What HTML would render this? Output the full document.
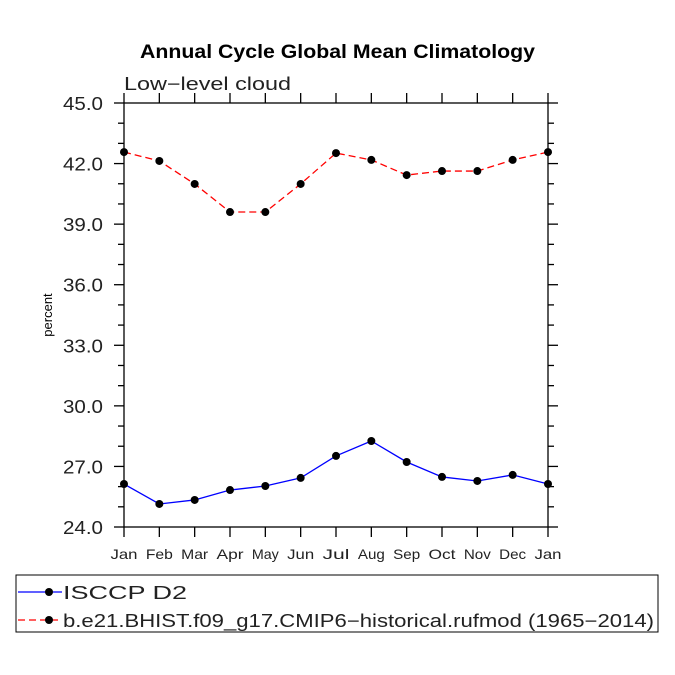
<!DOCTYPE html>
<html><head><meta charset="utf-8"><style>
body{margin:0;background:#fff}
svg{display:block}
text{font-family:"Liberation Sans",sans-serif}
</style></head><body>
<svg id="chart" width="675" height="675" viewBox="0 0 675 675" xmlns="http://www.w3.org/2000/svg">
<text x="140" y="58" textLength="395" lengthAdjust="spacingAndGlyphs" font-size="19" font-weight="bold">Annual Cycle Global Mean Climatology</text>
<text x="124" y="90" font-size="18" fill="#222" textLength="167" lengthAdjust="spacingAndGlyphs">Low−level cloud</text>
<text x="0" y="0" font-size="13" transform="translate(52,315) rotate(-90)" text-anchor="middle">percent</text>
<g id="axes"></g>
<g id="series"></g>
<g>
<rect x="16" y="575" width="642" height="57" fill="none" stroke="#000" stroke-width="1"/>
<g>
<line x1="18" y1="592" x2="62" y2="592" stroke="#00f" stroke-width="1.3"/>
<circle cx="49" cy="592" r="4" fill="#000"/>
<text x="63" y="599" font-size="18" fill="#222" textLength="124" lengthAdjust="spacingAndGlyphs">ISCCP D2</text></g>
<g>
<line x1="18" y1="620" x2="62" y2="620" stroke="#f00" stroke-width="1.3" stroke-dasharray="7,4"/>
<circle cx="49" cy="620" r="4" fill="#000"/>
<text x="63" y="627" font-size="18" fill="#222" textLength="591" lengthAdjust="spacingAndGlyphs">b.e21.BHIST.f09_g17.CMIP6−historical.rufmod (1965−2014)</text></g>
</g>
</svg>
<script>
const months=["Jan","Feb","Mar","Apr","May","Jun","Jul","Aug","Sep","Oct","Nov","Dec","Jan"];
const isccp=[26.13,25.14,25.34,25.83,26.03,26.43,27.52,28.26,27.22,26.48,26.28,26.58,26.13];
const model=[42.57,42.13,40.99,39.6,39.6,40.99,42.52,42.18,41.43,41.63,41.63,42.18,42.57];
const yTicks=["24.0","27.0","30.0","33.0","36.0","39.0","42.0","45.0"];
const NS="http://www.w3.org/2000/svg";
const X0=124,X1=548,Y0=527,Y1=103,ymin=24,ymax=45;
const xs=i=>X0+(X1-X0)*i/(months.length-1);
const ys=v=>Y0-(Y0-Y1)*(v-ymin)/(ymax-ymin);
function mk(tag,at,parent){const e=document.createElementNS(NS,tag);for(const k in at)e.setAttribute(k,at[k]);parent.appendChild(e);return e;}
const ax=document.getElementById('axes');
const frame=mk('rect',{x:X0,y:Y1,width:X1-X0,height:Y0-Y1,fill:'none',stroke:'#000','stroke-width':1.3},ax);


months.forEach((m,i)=>{
  const x=xs(i);
  mk('line',{x1:x,y1:Y0,x2:x,y2:Y0+10,stroke:'#000','stroke-width':1.3},ax);
  mk('line',{x1:x,y1:Y1,x2:x,y2:Y1-10,stroke:'#000','stroke-width':1.3},ax);
  const t=mk('text',{x:x,y:Y0+32,'font-size':14,'text-anchor':'middle',fill:'#222',textLength:m.length*9,lengthAdjust:'spacingAndGlyphs'},ax);
  t.textContent=m;
  
  
});
for(let v=ymin;v<=ymax;v+=1){
  const y=ys(v),maj=(v-ymin)%3===0,L=maj?10:6;
  mk('line',{x1:X0-L,y1:y,x2:X0,y2:y,stroke:'#000','stroke-width':1.3},ax);
  mk('line',{x1:X1,y1:y,x2:X1+L,y2:y,stroke:'#000','stroke-width':1.3},ax);
}
yTicks.forEach(s=>{
  const t=mk('text',{x:63,y:ys(parseFloat(s))+7,'font-size':18,fill:'#222',textLength:40,lengthAdjust:'spacingAndGlyphs'},ax);
  t.textContent=s;
  
  
});
const sg=document.getElementById('series');
function series(vals,color,dash,name){
  const g=mk('g',{},sg);
  
  
  const p=mk('polyline',{points:vals.map((v,i)=>xs(i)+','+ys(v)).join(' '),fill:'none',stroke:color,'stroke-width':1.3},g);
  if(dash)p.setAttribute('stroke-dasharray',dash);
  vals.forEach((v,i)=>{
    const c=mk('circle',{cx:xs(i),cy:ys(v),r:4,fill:'#000'},g);
    
    
  });
}
series(isccp,'#00f',null,'series-isccp');
series(model,'#f00','7,4','series-model');
</script>
</body></html>
